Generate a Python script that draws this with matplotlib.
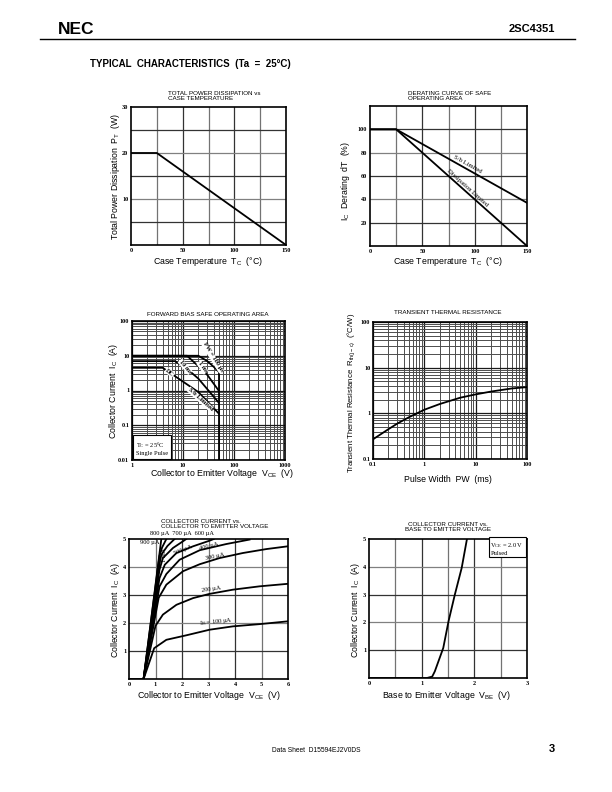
import numpy as np
import matplotlib.pyplot as plt
from matplotlib.ticker import FixedLocator, NullFormatter

plt.rcParams['font.family'] = ['Liberation Sans', 'DejaVu Sans']

# ---- data ----
# total power dissipation vs case temperature
tc_pt = [0, 25, 150]
pt_w = [20, 20, 0]

# derating curve
tc_der = [0, 25, 150]
sb_limited = [100, 100, 37]
diss_limited = [100, 100, 0]

# forward bias SOA
soa_100us_v = [1, 20, 30, 40, 50]
soa_100us_i = [10, 10, 7.0, 4.8, 3.5]
soa_1ms_v = [1, 12, 20, 30, 50]
soa_1ms_i = [10, 10, 5.0, 2.8, 1.0]
soa_10ms_v = [1, 7, 12, 20, 50]
soa_10ms_i = [7, 7, 4.2, 2.2, 0.45]
soa_dc_v = [1, 4, 10, 20, 50]
soa_dc_i = [4.5, 4.5, 1.8, 0.9, 0.22]

# transient thermal resistance
pw_ms = [0.1, 0.2, 0.3, 0.5, 1, 2, 5, 10, 20, 50, 100]
rth = [0.27, 0.45, 0.6, 0.82, 1.2, 1.6, 2.2, 2.6, 3.0, 3.5, 3.75]

# collector current vs collector-emitter voltage
ib_labels = ['100', '200', '300', '400', '500', '600', '700', '800', '900']
vce_curves = [
    [0.55, 0.95, 1.41, 2.16, 3.04, 3.92, 4.93, 6.0],
    [0.55, 1.0, 1.28, 1.79, 2.42, 3.04, 3.92, 4.93, 6.0],
    [0.55, 1.12, 1.41, 2.04, 2.67, 3.42, 4.3, 5.18, 6.0],
    [0.55, 1.15, 1.41, 1.91, 2.67, 3.67, 4.55],
    [0.55, 1.15, 1.35, 1.79, 2.42, 3.04, 3.2],
    [0.55, 1.15, 1.28, 1.66, 2.04, 2.16],
    [0.55, 1.15, 1.22, 1.45, 1.72],
    [0.55, 1.15, 1.25, 1.41],
    [0.55, 1.22],
]
ic_curves = [
    [0, 1.1, 1.4, 1.56, 1.76, 1.88, 1.96, 2.06],
    [0, 1.9, 2.3, 2.65, 2.89, 3.04, 3.19, 3.31, 3.4],
    [0, 2.9, 3.37, 3.85, 4.1, 4.32, 4.5, 4.64, 4.74],
    [0, 3.3, 3.75, 4.26, 4.6, 4.82, 4.98],
    [0, 3.6, 4.08, 4.5, 4.74, 4.94, 5.0],
    [0, 3.9, 4.32, 4.68, 4.92, 5.0],
    [0, 4.1, 4.44, 4.75, 5.0],
    [0, 4.4, 4.7, 5.0],
    [0, 5.0],
]

# collector current vs base-emitter voltage
vbe = [0, 1.1, 1.2, 1.25, 1.41, 1.51, 1.63, 1.76, 1.86]
ic_vbe = [0, 0, 0.05, 0.24, 1.08, 2.04, 3.0, 3.96, 5.0]

W, H = 612, 792
fig = plt.figure(figsize=(6.12, 7.92), dpi=100)


def box(l, t, r, b):
    return fig.add_axes([l / W, 1 - b / H, (r - l) / W, (b - t) / H])


def txt(x, y, s, **kw):
    fig.text(x / W, 1 - y / H, s, **kw)


tick_font = dict(family='Liberation Serif', size=4.5, weight='bold')
lab_size = 6.3
title_size = 4.5
curve = dict(color='black', lw=1.3)


def style(ax):
    for s in ax.spines.values():
        s.set_linewidth(1.2)
    ax.tick_params(which='both', length=0, pad=2)
    for t in ax.get_xticklabels() + ax.get_yticklabels():
        t.set_fontproperties(tick_font)
        t.set_fontsize(4.5)


def lin_grid(ax, xg, yg):
    for i, x in enumerate(xg):
        ax.axvline(x, color='0.2' if i % 2 else '0.45', lw=0.9, zorder=0)
    for i, y in enumerate(yg):
        ax.axhline(y, color='0.2' if i % 2 == 0 else '0.5', lw=0.9, zorder=0)


def log_grid(ax):
    ax.grid(True, which='major', color='0.1', lw=0.9)
    ax.grid(True, which='minor', color='0.3', lw=0.7)


# header
txt(58, 29, 'NEC', size=12.5, weight='bold', va='center', ha='left')
txt(555, 29, '2SC4351', size=8, weight='bold', va='center', ha='right')
fig.add_artist(plt.Line2D([40 / W, 575 / W], [1 - 38.5 / H, 1 - 38.5 / H], color='black', lw=1.0))
txt(90, 64, 'TYPICAL  CHARACTERISTICS  (Ta  =  25°C)', size=7, weight='bold', va='center')
txt(272, 750, 'Data Sheet  D15594EJ2V0DS', size=4.8, va='center')
txt(555, 749, '3', size=8, weight='bold', va='center', ha='right')

# 1: total power dissipation
ax = box(131, 107, 286, 245)
ax.plot(tc_pt, pt_w, **curve)
ax.set_xlim(0, 150)
ax.set_ylim(0, 30)
lin_grid(ax, [25, 50, 75, 100, 125], [5, 10, 15, 20, 25])
ax.xaxis.set_major_locator(FixedLocator([0, 50, 100, 150]))
ax.yaxis.set_major_locator(FixedLocator([10, 20, 30]))
style(ax)
txt(168, 96, 'TOTAL POWER DISSIPATION vs\nCASE TEMPERATURE', size=title_size, va='center', linespacing=1.0)
txt(208, 261, 'Case Temperature  T$_\\mathregular{C}$  (°C)', size=lab_size, ha='center', va='center')
txt(116, 176, 'Total Power Dissipation  P$_\\mathregular{T}$  (W)', size=lab_size, ha='center', va='center', rotation=90)

# 2: derating
ax = box(370, 106, 527, 246)
ax.plot(tc_der, sb_limited, **curve)
ax.plot(tc_der, diss_limited, **curve)
ax.set_xlim(0, 150)
ax.set_ylim(0, 120)
lin_grid(ax, [25, 50, 75, 100, 125], [20, 40, 60, 80, 100])
ax.xaxis.set_major_locator(FixedLocator([0, 50, 100, 150]))
ax.yaxis.set_major_locator(FixedLocator([20, 40, 60, 80, 100]))
style(ax)
ax.text(93, 70, 'S/b Limited', family='Liberation Serif', size=4.8, rotation=-29, ha='center', va='center')
ax.text(93, 50, 'Dissipation Limited', family='Liberation Serif', size=4.8, rotation=-42, ha='center', va='center')
txt(408, 96, 'DERATING CURVE OF SAFE\nOPERATING AREA', size=title_size, va='center', linespacing=1.0)
txt(448, 261, 'Case Temperature  T$_\\mathregular{C}$  (°C)', size=lab_size, ha='center', va='center')
txt(345, 181, 'I$_\\mathregular{C}$  Derating  dT  (%)', size=lab_size, ha='center', va='center', rotation=90)

# 3: forward bias SOA
ax = box(132, 321, 285, 460)
ax.set_xscale('log')
ax.set_yscale('log')
ax.plot(soa_100us_v, soa_100us_i, **curve)
ax.plot(soa_1ms_v, soa_1ms_i, **curve)
ax.plot(soa_10ms_v, soa_10ms_i, **curve)
ax.plot(soa_dc_v, soa_dc_i, **curve)
ax.plot([50, 50], [0.01, 3.5], **curve)
ax.set_xlim(1, 1000)
ax.set_ylim(0.01, 100)
log_grid(ax)
ax.xaxis.set_major_locator(FixedLocator([1, 10, 100, 1000]))
ax.yaxis.set_major_locator(FixedLocator([0.01, 0.1, 1, 10, 100]))
ax.xaxis.set_major_formatter(plt.FixedFormatter(['1', '10', '100', '1000']))
ax.yaxis.set_major_formatter(plt.FixedFormatter(['0.01', '0.1', '1', '10', '100']))
ax.xaxis.set_minor_formatter(NullFormatter())
ax.yaxis.set_minor_formatter(NullFormatter())
style(ax)
sm = dict(family='Liberation Serif', size=4.5, weight='bold', ha='center', va='center',
          bbox=dict(facecolor='white', edgecolor='none', pad=0.3))
ax.text(38, 9, 'PW = 100 µs', rotation=-58, **sm)
ax.text(24, 4.6, '1 ms', rotation=-55, **sm)
ax.text(11, 4.8, '10 ms', rotation=-50, **sm)
ax.text(5.5, 3.3, 'DC', rotation=-40, **sm)
ax.text(22, 0.55, 'S/b Limited', rotation=-42, **sm)
ax.text(1.2, 0.013, 'T$_\\mathregular{C}$ = 25°C\nSingle Pulse', family='Liberation Serif', size=4.6,
        va='bottom', ha='left', linespacing=1.3,
        bbox=dict(facecolor='white', edgecolor='black', lw=0.8, pad=2))
txt(208, 315, 'FORWARD BIAS SAFE OPERATING AREA', size=title_size, ha='center', va='center')
txt(222, 474, 'Collector to Emitter Voltage  V$_\\mathregular{CE}$  (V)', size=lab_size, ha='center', va='center')
txt(113, 391, 'Collector Current  I$_\\mathregular{C}$  (A)', size=lab_size, ha='center', va='center', rotation=90)

# 4: transient thermal resistance
ax = box(373, 322, 527, 459)
ax.set_xscale('log')
ax.set_yscale('log')
ax.plot(pw_ms, rth, **curve)
ax.set_xlim(0.1, 100)
ax.set_ylim(0.1, 100)
log_grid(ax)
ax.xaxis.set_major_locator(FixedLocator([0.1, 1, 10, 100]))
ax.yaxis.set_major_locator(FixedLocator([0.1, 1, 10, 100]))
ax.xaxis.set_major_formatter(plt.FixedFormatter(['0.1', '1', '10', '100']))
ax.yaxis.set_major_formatter(plt.FixedFormatter(['0.1', '1', '10', '100']))
ax.xaxis.set_minor_formatter(NullFormatter())
ax.yaxis.set_minor_formatter(NullFormatter())
style(ax)
txt(448, 313, 'TRANSIENT THERMAL RESISTANCE', size=title_size, ha='center', va='center')
txt(448, 480, 'Pulse Width  PW  (ms)', size=lab_size, ha='center', va='center')
txt(352, 393, 'Transient Thermal Resistance  R$_\\mathregular{th(j-c)}$  (°C/W)', size=5.6,
    ha='center', va='center', rotation=90)

# 5: Ic vs Vce
ax = box(129, 539, 288, 679)
ax.plot([0, 0.55], [0, 0], **curve)
for v, i in zip(vce_curves, ic_curves):
    ax.plot(v, i, **curve)
ax.set_xlim(0, 6)
ax.set_ylim(0, 5)
lin_grid(ax, [1, 2, 3, 4, 5], [1, 2, 3, 4])
ax.xaxis.set_major_locator(FixedLocator([0, 1, 2, 3, 4, 5, 6]))
ax.yaxis.set_major_locator(FixedLocator([1, 2, 3, 4, 5]))
style(ax)
lb = dict(family='Liberation Serif', size=4.6, ha='center', va='center', clip_on=False)
ax.text(3.3, 2.05, 'I$_\\mathregular{B}$ = ' + ib_labels[0] + ' µA', rotation=6, **lb)
ax.text(3.1, 3.2, ib_labels[1] + ' µA', rotation=8, **lb)
ax.text(3.25, 4.38, ib_labels[2] + ' µA', rotation=12, **lb)
ax.text(3.0, 4.75, ib_labels[3] + ' µA', rotation=14, **lb)
ax.text(2.05, 4.62, ib_labels[4] + ' µA', rotation=22, **lb)
ax.text(2.0, 5.2, ib_labels[7] + ' µA  ' + ib_labels[6] + ' µA  ' + ib_labels[5] + ' µA', **lb)
ax.text(0.8, 4.87, ib_labels[8] + ' µA', **lb)
ax.text(1.35, 4.45, '1 mA', rotation=90, **lb)
txt(161, 524, 'COLLECTOR CURRENT vs.\nCOLLECTOR TO EMITTER VOLTAGE', size=title_size, va='center', linespacing=1.0)
txt(209, 696, 'Collector to Emitter Voltage  V$_\\mathregular{CE}$  (V)', size=lab_size, ha='center', va='center')
txt(115, 610, 'Collector Current  I$_\\mathregular{C}$  (A)', size=lab_size, ha='center', va='center', rotation=90)

# 6: Ic vs Vbe
ax = box(369, 539, 527, 678)
ax.plot(vbe, ic_vbe, **curve)
ax.set_xlim(0, 3)
ax.set_ylim(0, 5)
lin_grid(ax, [0.5, 1, 1.5, 2, 2.5], [1, 2, 3, 4])
ax.xaxis.set_major_locator(FixedLocator([0, 1, 2, 3]))
ax.yaxis.set_major_locator(FixedLocator([1, 2, 3, 4, 5]))
style(ax)
ax.text(2.94, 4.93, 'V$_\\mathregular{CE}$ = 2.0 V\nPulsed', family='Liberation Serif', size=4.6,
        ha='right', va='top', multialignment='left', linespacing=1.2,
        bbox=dict(facecolor='white', edgecolor='black', lw=0.8, pad=1.2))
txt(448, 527, 'COLLECTOR CURRENT vs.\nBASE TO EMITTER VOLTAGE', size=title_size, ha='center', va='center',
    linespacing=1.0)
txt(447, 696, 'Base to Emitter Voltage  V$_\\mathregular{BE}$  (V)', size=lab_size, ha='center', va='center')
txt(355, 610, 'Collector Current  I$_\\mathregular{C}$  (A)', size=lab_size, ha='center', va='center', rotation=90)

fig.savefig('out.png', dpi=100)
